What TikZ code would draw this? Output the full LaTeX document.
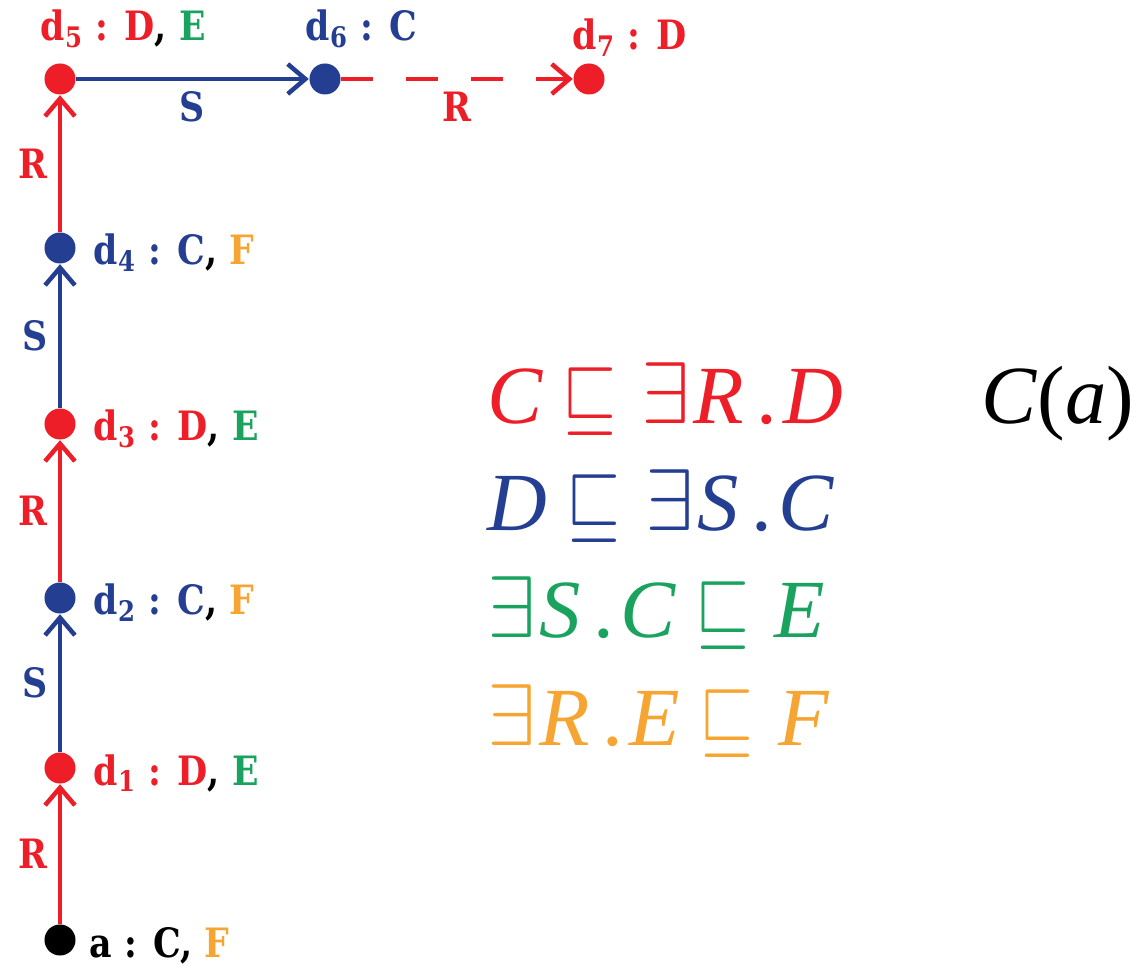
\documentclass[tikz,border=0pt]{standalone}
\usepackage{fontspec}
\usepackage{graphicx}
\setmainfont{Liberation Serif}
\newfontfamily\axfont{Liberation Serif}
\newfontfamily\labfont{DejaVu Serif}[FakeStretch=0.86]
\usetikzlibrary{arrows.meta,calc,positioning}
\definecolor{dlred}{RGB}{237,30,40}
\definecolor{dlblue}{RGB}{36,62,145}
\definecolor{dlgreen}{RGB}{25,163,95}
\definecolor{dlorange}{RGB}{247,165,50}
\tikzset{
  dot/.style={circle, fill=#1, minimum size=0.31cm, inner sep=0pt},
  role/.style={
    line width=0.045cm,
    -{Straight Barb[length=5pt,width=8.5pt]}
  },
  lab/.style={font=\labfont\bfseries\fontsize{11.5}{14}\selectfont, inner sep=0pt, anchor=base west},
  edgelab/.style={font=\labfont\bfseries\fontsize{11.5}{14}\selectfont, inner sep=3pt},
  axiom/.style={font=\axfont\fontsize{23.5}{28}\selectfont, inner sep=0pt, anchor=base west}
}
\newcommand{\ind}[1]{d\textsubscript{#1}}
\newcommand{\sub}{\hspace{0.23em}\scalebox{0.8}[1]{$\sqsubseteq$}\hspace{0.3em}}
\newcommand{\ex}{$\exists$\hspace{0.04em}}
\newcommand{\dt}{\hspace{0.15em}.\hspace{0.08em}}

\begin{document}
\begin{tikzpicture}[x=0.01cm, y=-0.01cm]
  \useasboundingbox (0,0) rectangle (1131,965);
  % --- individuals (pixel grid, y down) ---
  \node[dot=black]  (a)  at (60,940) {};
  \node[dot=dlred]  (d1) at (60,768) {};
  \node[dot=dlblue] (d2) at (60,598) {};
  \node[dot=dlred]  (d3) at (60,424) {};
  \node[dot=dlblue] (d4) at (60,248) {};
  \node[dot=dlred]  (d5) at (60,79) {};
  \node[dot=dlblue] (d6) at (325,79) {};
  \node[dot=dlred]  (d7) at (589,79) {};

  % --- concept labels ---
  \node[lab] (la)  at ($(a)+(29,17)$)  {a : C, \textcolor{dlorange}{F}};
  \node[lab] (ld1) at ($(d1)+(33,17)$) {\textcolor{dlred}{\ind{1} : D}, \textcolor{dlgreen}{E}};
  \node[lab] (ld2) at ($(d2)+(33,17)$) {\textcolor{dlblue}{\ind{2} : C}, \textcolor{dlorange}{F}};
  \node[lab] (ld3) at ($(d3)+(33,17)$) {\textcolor{dlred}{\ind{3} : D}, \textcolor{dlgreen}{E}};
  \node[lab] (ld4) at ($(d4)+(33,17)$) {\textcolor{dlblue}{\ind{4} : C}, \textcolor{dlorange}{F}};
  \node[lab] (ld5) at ($(d5)+(-20,-38)$) {\textcolor{dlred}{\ind{5} : D}, \textcolor{dlgreen}{E}};
  \node[lab] (ld6) at ($(d6)+(-20,-38)$) {\textcolor{dlblue}{\ind{6} : C}};
  \node[lab] (ld7) at ($(d7)+(-17,-29)$) {\textcolor{dlred}{\ind{7} : D}};

  % --- role edges ---
  \draw[role, dlred]  (a)  -- node[edgelab, left]  (r1) {R} (d1);
  \draw[role, dlblue] (d1) -- node[edgelab, left]  (s1) {S} (d2);
  \draw[role, dlred]  (d2) -- node[edgelab, left]  (r2) {R} (d3);
  \draw[role, dlblue] (d3) -- node[edgelab, left]  (s2) {S} (d4);
  \draw[role, dlred]  (d4) -- node[edgelab, left]  (r3) {R} (d5);
  \draw[role, dlblue] (d5) -- node[edgelab, below] (s3) {S} (d6);
  \draw[role, dlred, dash pattern=on 0.32cm off 0.33cm]
    (d6) -- node[edgelab, below] (r4) {R} (d7);

  % --- TBox and ABox ---
  \node[axiom, dlred]    (ax1) at (487,424) {\textit{C}\sub\ex\textit{R}\dt\textit{D}};
  \node[axiom, dlblue]   (ax2) at (487,531) {\textit{D}\sub\ex\textit{S}\dt\textit{C}};
  \node[axiom, dlgreen]  (ax3) at (487,638) {\ex\textit{S}\dt\textit{C}\sub\textit{E}};
  \node[axiom, dlorange] (ax4) at (487,745) {\ex\textit{R}\dt\textit{E}\sub\textit{F}};
  \node[axiom]           (ca)  at (981,424) {\textit{C}(\textit{a})};
\end{tikzpicture}
\end{document}
